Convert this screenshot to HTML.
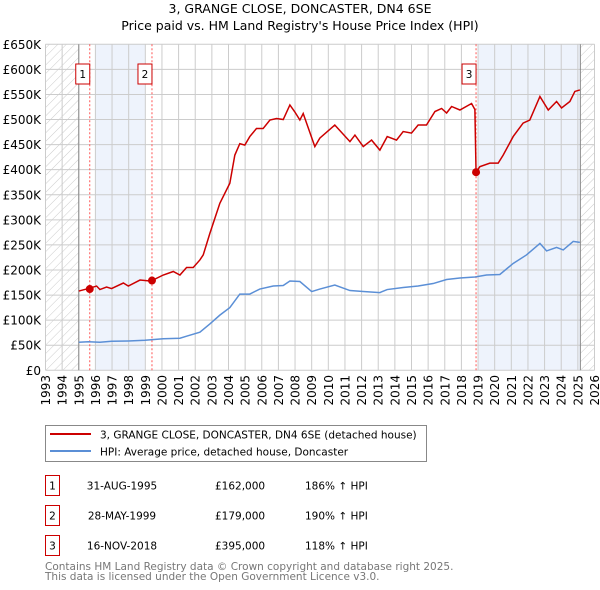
<!DOCTYPE html>
<html><head><meta charset="utf-8"><style>
body{margin:0;background:#fff;}
svg{display:block;font-family:"DejaVu Sans","Liberation Sans",sans-serif;}
</style></head><body>
<svg id="c" width="600" height="590" xmlns="http://www.w3.org/2000/svg">
<defs><pattern id="hatch" width="6" height="6" patternUnits="userSpaceOnUse" patternTransform="rotate(45)"><line x1="0" y1="0" x2="0" y2="6" stroke="#ccc" stroke-width="1"/></pattern></defs>
<text x="300" y="13" text-anchor="middle" font-size="12.5" fill="#000">3, GRANGE CLOSE, DONCASTER, DN4 6SE</text>
<text x="300" y="30" text-anchor="middle" font-size="12.5" fill="#000">Price paid vs. HM Land Registry's House Price Index (HPI)</text>
<g id="plot"></g>
<g>
<rect x="45.5" y="425.5" width="381" height="36" fill="#fff" stroke="#888"/>
<line x1="50" y1="434" x2="91" y2="434" stroke="#cc0000" stroke-width="2"/>
<text x="100" y="438.5" font-size="10.5">3, GRANGE CLOSE, DONCASTER, DN4 6SE (detached house)</text>
<line x1="50" y1="451" x2="91" y2="451" stroke="#5b8fd6" stroke-width="2"/>
<text x="100" y="455.5" font-size="10.5">HPI: Average price, detached house, Doncaster</text>
</g>
<g id="tbl" font-size="10.5"></g>
<text x="45" y="570" font-size="10.5" fill="#777">Contains HM Land Registry data © Crown copyright and database right 2025.</text>
<text x="45" y="580" font-size="10.5" fill="#777">This data is licensed under the Open Government Licence v3.0.</text>
</svg>
<script>
const yTicks=[0,50,100,150,200,250,300,350,400,450,500,550,600,650];
const yLabels=["£0","£50K","£100K","£150K","£200K","£250K","£300K","£350K","£400K","£450K","£500K","£550K","£600K","£650K"];
const xYears=[1993,1994,1995,1996,1997,1998,1999,2000,2001,2002,2003,2004,2005,2006,2007,2008,2009,2010,2011,2012,2013,2014,2015,2016,2017,2018,2019,2020,2021,2022,2023,2024,2025,2026];
const redYears=[1995.0,1995.57,1996.07,1996.27,1996.67,1996.97,1997.68,1997.98,1998.68,1999.28,1999.4,2000.08,2000.68,2001.08,2001.48,2001.88,2002.28,2002.48,2002.88,2003.48,2004.08,2004.38,2004.68,2004.98,2005.28,2005.68,2006.08,2006.49,2006.89,2007.29,2007.69,2007.99,2008.29,2008.49,2009.19,2009.49,2010.39,2011.3,2011.6,2012.1,2012.6,2013.1,2013.54,2014.1,2014.5,2015.0,2015.4,2015.9,2016.41,2016.81,2017.11,2017.41,2017.91,2018.61,2018.81,2018.88,2019.11,2019.71,2020.21,2020.51,2021.11,2021.71,2022.11,2022.72,2023.22,2023.72,2024.02,2024.52,2024.82,2025.12];
const redValues=[158,163,168,161,166,163,174,168,180,178,179,190,197,190,205,205,220,230,273,333,373,429,452,449,466,482,482,499,502,500,529,515,499,512,446,463,489,456,469,446,459,439,466,459,476,473,489,489,516,522,513,526,519,532,520,395,406,413,413,429,466,493,499,546,519,536,523,536,556,559];
const hpiYears=[1995.0,1995.57,1996.27,1996.97,1997.98,1998.98,2000.08,2001.08,2001.48,2002.28,2002.88,2003.48,2004.08,2004.68,2005.28,2005.88,2006.69,2007.29,2007.69,2008.29,2009.0,2009.49,2010.39,2011.3,2012.1,2013.1,2013.54,2014.5,2015.4,2016.3,2017.11,2017.91,2018.81,2019.51,2020.31,2021.11,2021.91,2022.72,2023.12,2023.72,2024.12,2024.72,2025.12];
const hpiValues=[56,57,56,58,58.5,60,63,64,68,76,92.5,110,125,152,152,162,168,169,178,177,157,162,170,159,157,155,161,165,168,173,181,184,186,190,191,213,230,253,238,245,240,257,255];
const saleYears=[1995.66,1999.4,2018.88];
const saleValues=[162,179,395];
const saleLabels=["1","2","3"];
const saleDates=["31-AUG-1995","28-MAY-1999","16-NOV-2018"];
const salePrices=["£162,000","£179,000","£395,000"];
const salePcts=["186% ↑ HPI","190% ↑ HPI","118% ↑ HPI"];

const X0=45.5,X1=594.5,Y0=370.3,Y1=44.3;
const sx=y=>X0+(y-1993)/(2026-1993)*(X1-X0);
const sy=v=>Y0-v/650*(Y0-Y1);
const NS="http://www.w3.org/2000/svg";
const plot=document.getElementById('plot');
function mk(tag,attrs,parent){const e=document.createElementNS(NS,tag);for(const k in attrs)e.setAttribute(k,attrs[k]);(parent||plot).appendChild(e);return e;}

let r=mk('rect',{x:X0,y:Y1,width:X1-X0,height:Y0-Y1,fill:'#fff'});


// shaded ownership periods
r=mk('rect',{x:sx(1996),y:Y1,width:sx(1999)-sx(1996),height:Y0-Y1,fill:'#eef3fc'});


r=mk('rect',{x:sx(2019),y:Y1,width:sx(2025.15)-sx(2019),height:Y0-Y1,fill:'#eef3fc'});


r=mk('rect',{x:X0,y:Y1,width:sx(1995)-X0,height:Y0-Y1,fill:'url(#hatch)'});


r=mk('rect',{x:sx(2025.15),y:Y1,width:X1-sx(2025.15),height:Y0-Y1,fill:'url(#hatch)'});



yTicks.forEach((v,i)=>{
  const l=mk('line',{x1:X0,x2:X1,y1:sy(v),y2:sy(v),stroke:'#ccc','stroke-width':1});
  
  
  const t=mk('text',{x:41,y:sy(v)+4.5,'text-anchor':'end','font-size':'12'});
  
  
  t.textContent=yLabels[i];
});
xYears.forEach(y=>{
  const l=mk('line',{x1:sx(y),x2:sx(y),y1:Y1,y2:Y0,stroke:'#ccc','stroke-width':1});
  
  
  const t=mk('text',{x:0,y:0,'font-size':'12','text-anchor':'end',transform:`translate(${sx(y)+4.5},375) rotate(-90)`});
  
  
  t.textContent=y;
});
[1995,2025.15].forEach(y=>{
  const l=mk('line',{x1:sx(y),x2:sx(y),y1:Y1,y2:Y0,stroke:'#888','stroke-width':1});
  
  
});
saleYears.forEach((y,i)=>{
  const l=mk('line',{x1:sx(y),x2:sx(y),y1:Y1,y2:Y0,stroke:'#f55','stroke-width':1,'stroke-dasharray':'2,2'});
  
  
});
let p=mk('polyline',{points:hpiYears.map((y,i)=>sx(y)+','+sy(hpiValues[i])).join(' '),fill:'none',stroke:'#5b8fd6','stroke-width':1.5});


p=mk('polyline',{points:redYears.map((y,i)=>sx(y)+','+sy(redValues[i])).join(' '),fill:'none',stroke:'#cc0000','stroke-width':1.5});


saleYears.forEach((y,i)=>{
  const c=mk('circle',{cx:sx(y),cy:sy(saleValues[i]),r:4,fill:'#cc0000'});
  
  
  const b=mk('rect',{x:sx(y)-14,y:64,width:14,height:20,fill:'#fff',stroke:'#cc0000'});
  
  
  const t=mk('text',{x:sx(y)-7,y:78,'text-anchor':'middle','font-size':'10.5'});
  
  
  t.textContent=saleLabels[i];
});
const tbl=document.getElementById('tbl');
saleLabels.forEach((s,i)=>{
  const y=475+i*30;
  const b=mk('rect',{x:45.5,y:y+0.5,width:14,height:20,fill:'#fff',stroke:'#cc0000'},tbl);
  
  
  const cells=[[52.5,'middle',s],[122,'middle',saleDates[i]],[215,'start',salePrices[i]],[305,'start',salePcts[i]]];
  cells.forEach(([x,a,txt],j)=>{
    const t=mk('text',{x:x,y:y+14.5,'text-anchor':a},tbl);
    
    
    t.textContent=txt;
  });
});
</script>
</body></html>
